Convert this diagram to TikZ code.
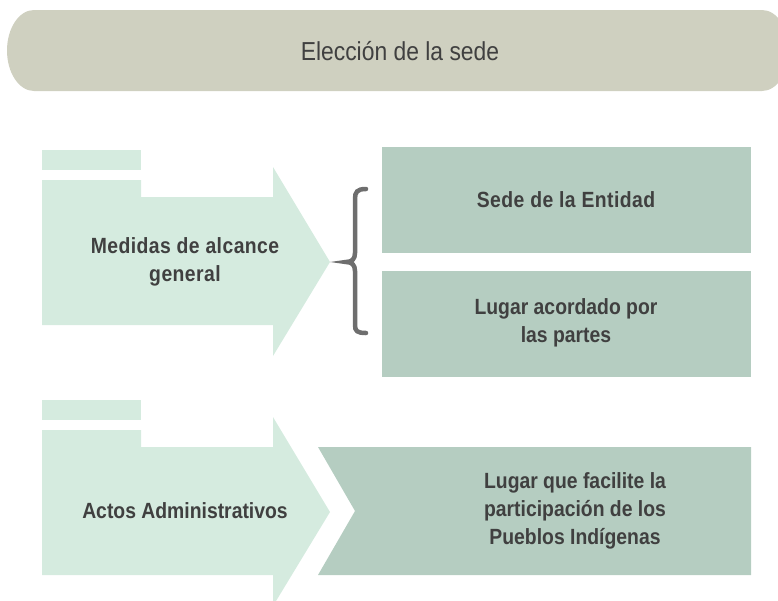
\documentclass[tikz,border=0pt]{standalone}
\usepackage{fontspec}
\newfontfamily\nar{Liberation Sans}[FakeStretch=0.88]
\definecolor{pillc}{HTML}{CFD0C0}
\definecolor{arrowc}{HTML}{D5EBDF}
\definecolor{boxc}{HTML}{B5CDC1}
\definecolor{txtc}{HTML}{404040}
\definecolor{bracec}{HTML}{6E6E6E}
\begin{document}
\begin{tikzpicture}[x=1pt,y=-1pt,
  lbl/.style={text=txtc, font=\nar\bfseries\fontsize{22}{28}\selectfont, align=center, inner sep=0pt},
  ttl/.style={text=txtc, font=\nar\fontsize{26}{30}\selectfont, inner sep=0pt},
  sp/.style={font=\nar\bfseries\fontsize{22}{28}\selectfont\addfontfeature{LetterSpace=2}}]
\useasboundingbox (0,0) rectangle (778,600);
\clip (0,0) rectangle (778,600);
% title pill
\fill[pillc] (34,10) -- (762,10) arc[start angle=90, end angle=-90, x radius=27pt, y radius=40.5pt]
  -- (34,91) arc[start angle=270, end angle=90, x radius=27pt, y radius=40.5pt] -- cycle;
% upper arrow
\fill[arrowc] (42,150) rectangle (141,170);
\fill[arrowc] (42,180) -- (141,180) -- (141,197) -- (273,197) -- (273,167) -- (330,262)
  -- (273,356) -- (273,325) -- (42,325) -- cycle;
% lower arrow
\fill[arrowc] (42,400) rectangle (141,420);
\fill[arrowc] (42,430) -- (141,430) -- (141,447) -- (273,447) -- (273,417) -- (330,512)
  -- (273,606) -- (273,575) -- (42,575) -- cycle;
% right boxes
\fill[boxc] (382,147) rectangle (751,253);
\fill[boxc] (382,271) rectangle (751,377);
\fill[boxc] (318,447) -- (751,447) -- (751,575) -- (318,575) -- (355,511) -- cycle;
% brace
\draw[bracec, line width=4.5pt, line cap=round]
  (366,189) .. controls (357,189) and (355,192) .. (355,199) -- (355,253)
  .. controls (355,259) and (352,262) .. (346,262)
  .. controls (352,262) and (355,265) .. (355,271) -- (355,325)
  .. controls (355,331) and (357,333) .. (366,333);
% texts
\node[ttl] (t) at (400,51) {Elección de la sede};
\node[lbl,sp] (m) at (185,262) {Medidas de alcance\\general};
\node[lbl,sp] (s) at (566,200) {Sede de la Entidad};
\node[lbl] (l) at (566,323) {Lugar acordado por\\las partes};
\node[lbl] (a) at (185,511) {Actos Administrativos};
\node[lbl] (p) at (575,511) {Lugar que facilite la\\participación de los\\Pueblos Indígenas};
\end{tikzpicture}
\end{document}
